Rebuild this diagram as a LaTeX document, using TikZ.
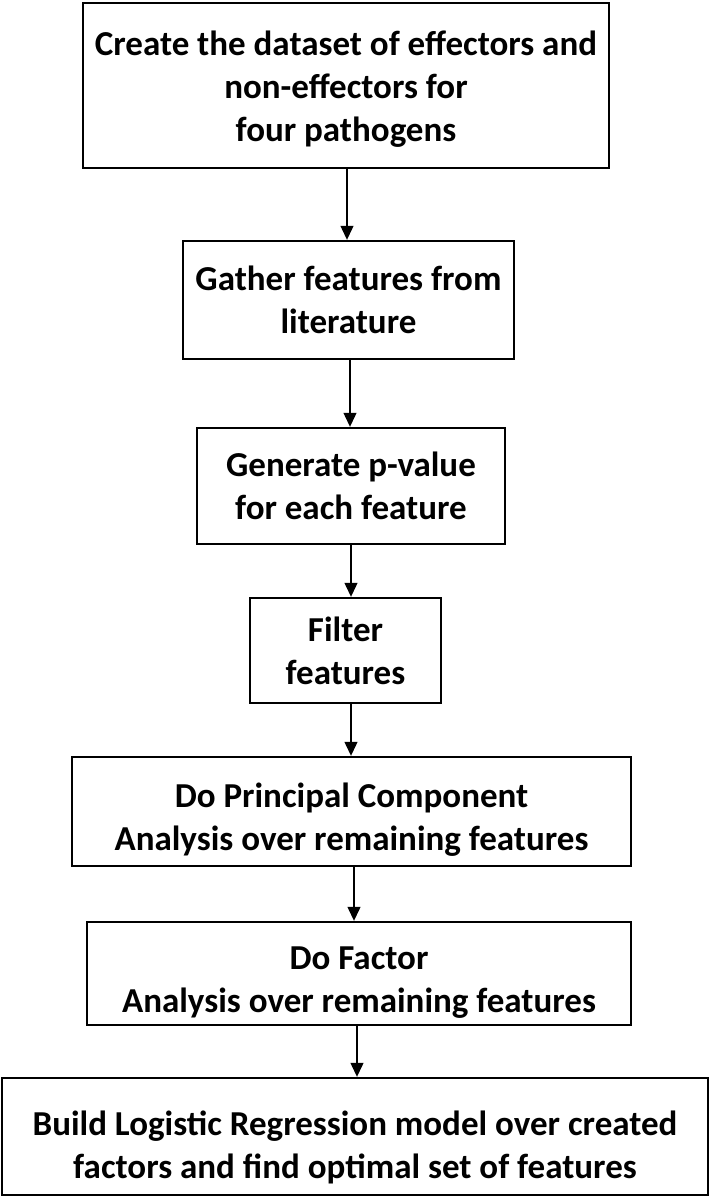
\documentclass[tikz,border=0pt]{standalone}
\usepackage{fontspec}
\setmainfont{Carlito}
\usetikzlibrary{arrows.meta}
\newcommand{\dropline}[1]{\rule{0pt}{#1}}
\begin{document}
\begin{tikzpicture}[x=1pt,y=-1pt,
  stepbox/.style={draw=black, line width=2.4pt, inner sep=0pt, align=center,
    font=\fontsize{35}{43}\selectfont\bfseries},
  arr/.style={line width=1.2pt, -{Triangle[width=13pt,length=14pt]}}]
\useasboundingbox (0,0) rectangle (710,1199);
\node[stepbox, minimum width=526pt, minimum height=165pt] (b1) at (346,85.5)
  {\dropline{32pt}Create the dataset of effectors and\\non-effectors for\\four pathogens};
\node[stepbox, minimum width=331pt, minimum height=118pt] (b2) at (348.5,300)
  {Gather features from\\literature};
\node[stepbox, minimum width=308pt, minimum height=116pt] (b3) at (351,486)
  {Generate p-value\\for each feature};
\node[stepbox, minimum width=191pt, minimum height=105pt] (b4) at (345.5,650.5)
  {Filter\\features};
\node[stepbox, minimum width=559pt, minimum height=109pt] (b5) at (351.5,811.5)
  {\dropline{40pt}Do Principal Component\\Analysis over remaining features};
\node[stepbox, minimum width=544pt, minimum height=103pt] (b6) at (359,973.5)
  {\dropline{40pt}Do Factor\\Analysis over remaining features};
\node[stepbox, minimum width=706pt, minimum height=117pt] (b7) at (355,1136.5)
  {\dropline{46pt}Build Logistic Regression model over created\\factors and find optimal set of features};
\coordinate (a1) at (347,0);
\coordinate (a2) at (350,0);
\coordinate (a3) at (351,0);
\coordinate (a4) at (351,0);
\coordinate (a5) at (354,0);
\coordinate (a6) at (357,0);
\draw[arr] (b1.south -| a1) -- (b2.north -| a1);
\draw[arr] (b2.south -| a2) -- (b3.north -| a2);
\draw[arr] (b3.south -| a3) -- (b4.north -| a3);
\draw[arr] (b4.south -| a4) -- (b5.north -| a4);
\draw[arr] (b5.south -| a5) -- (b6.north -| a5);
\draw[arr] (b6.south -| a6) -- (b7.north -| a6);
\end{tikzpicture}
\end{document}
